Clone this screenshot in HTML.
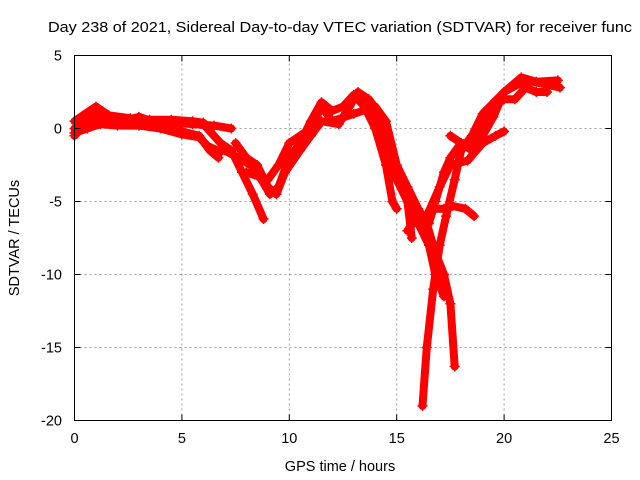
<!DOCTYPE html>
<html><head><meta charset="utf-8"><style>
body{margin:0;background:#fff}
svg{display:block;font-family:"Liberation Sans",sans-serif}
</style></head><body>
<svg id="chart" width="640" height="480" viewBox="0 0 640 480">
<text x="48" y="32" font-size="14.5" fill="#000" textLength="584" lengthAdjust="spacingAndGlyphs">Day 238 of 2021, Sidereal Day-to-day VTEC variation (SDTVAR) for receiver func</text>
<g id="grid"></g>
<g id="series"></g>
<rect x="74.5" y="55.5" width="537" height="365" fill="none" stroke="#000" stroke-width="1"/>
<g id="axes"></g>
<text x="340" y="471" font-size="14.5" text-anchor="middle">GPS time / hours</text>
<text transform="translate(19,238) rotate(-90)" font-size="14.5" text-anchor="middle">SDTVAR / TECUs</text>
</svg>
<script>
const xTicks=[0,5,10,15,20,25];
const yTicks=[5,0,-5,-10,-15,-20];
const track1=[[0,0],[0.5,0.6],[1,1.2],[1.5,0.6],[2.5,0.5],[3.5,0.3],[4.5,0.4],[5.5,0.3],[6.5,0.2],[7.3,0]];
const track2=[[0,-0.5],[0.5,0.3],[1,0.8],[2,0.4],[3,0.8],[4,0.3],[5,-0.2],[5.8,-0.5],[6.3,-1.5],[6.7,-2]];
const track2b=[[0,0.5],[0.4,0.9],[1,1.5],[1.6,0.9],[2.6,0.7],[3.5,0.6],[4.5,0.6],[5.5,0.5],[6,0.4]];
const track2c=[[0,-0.3],[0.6,0],[1.2,0.3],[2,0.2],[3,0.2],[4,0],[5,-0.4],[5.8,-0.6],[6.2,-1.2],[6.8,-1.6]];
const track3=[[6,0.3],[6.8,-1],[7.3,-1.5],[7.8,-3],[8.3,-4.5],[8.8,-6.2]];
const track4=[[7,-1.5],[7.6,-2],[8.2,-2.5],[8.7,-3.5],[9.1,-4.5],[9.5,-4],[10,-2],[10.5,-1],[11,0.5],[11.5,1.8],[12,1.2],[12.5,1.5],[13,2.3],[13.5,1.5],[14,0],[14.5,-2.5],[14.8,-5],[15,-5.5]];
const track5=[[7.5,-1],[8,-2],[8.5,-2.5],[9,-4],[9.4,-4.5],[9.8,-3],[10.5,-1.5],[11,-0.5],[11.5,0.5],[12.3,0.3],[12.8,1.5],[13.2,2.5],[13.7,2],[14.2,1],[14.7,-1],[15,-3],[15.5,-5],[15.7,-7.5]];
const track6=[[8,-3],[9,-3.5],[9.5,-2.5],[10,-1],[11,0],[11.5,1.5],[12,0.5],[13,1],[14,1.5],[14.5,0.5],[15,-2.5],[15.5,-4],[16,-5.5],[16.4,-6.5],[16.8,-8.5],[17.2,-10],[17.5,-12],[17.7,-16.3]];
const track7=[[16.2,-19],[16.4,-15],[16.7,-11],[17,-8],[17.3,-6],[17.7,-3.5],[18,-1.5],[18.5,-0.5],[19,1],[20,2.5],[21,3.3],[22,3],[22.6,2.8]];
const track8=[[15.5,-7],[16,-6],[16.5,-6.5],[16.8,-5],[17.2,-3],[17.5,-2],[18,-1],[18.5,-1.5],[19,-0.5],[19.5,0.8],[20,2.5],[20.8,3.5],[21.5,3.2],[22.5,3.3]];
const track9=[[16.7,-5.5],[17.2,-5.5],[17.6,-5.3],[18.2,-5.5],[18.6,-6]];
const track10=[[16.4,-6],[17,-4],[17.5,-2.5],[18.3,-2.2],[19,-1],[19.6,-0.5],[20,-0.2]];
const track11=[[17.5,-0.5],[18,-1],[18.5,-1],[19,0.5],[19.5,1.5],[20,2],[20.5,2],[21,2.8],[21.5,2.5],[22,2.5]];
const track12=[[13.5,1.5],[14,0.8],[14.5,-1.5],[15,-3.5],[15.5,-5],[16,-6.5],[16.5,-8],[16.8,-10],[17.2,-11.5]];
const tracks=[track1,track2,track2b,track2c,track3,track4,track5,track6,track7,track8,track9,track10,track11,track12];

const NS="http://www.w3.org/2000/svg";
const X0=74.5,X1=611.5,Y0=420.5,Y1=55.5;
const xs=v=>X0+(v-0)/(25-0)*(X1-X0);
const ys=v=>Y0-(v+20)/(5+20)*(Y0-Y1);
const grid=document.getElementById('grid'),axes=document.getElementById('axes'),ser=document.getElementById('series');
function mk(tag,attrs,parent){const e=document.createElementNS(NS,tag);for(const k in attrs)e.setAttribute(k,attrs[k]);parent.appendChild(e);return e;}
xTicks.forEach(t=>{
  const x=xs(t);
  if(t>0&&t<25){const g=mk('line',{x1:x,x2:x,y1:Y0,y2:Y1,stroke:'#a0a0a0','stroke-dasharray':'2,3'},grid);
  
  }
  const tk=mk('path',{d:`M${x},${Y0}v-6M${x},${Y1}v6`,stroke:'#000'},axes);
  
  
  const l=mk('text',{x:x,y:443,'font-size':'14.5','text-anchor':'middle'},axes);l.textContent=t;
  
  
});
yTicks.forEach(t=>{
  const y=ys(t);
  if(t>-20&&t<5){const g=mk('line',{x1:X0,x2:X1,y1:y,y2:y,stroke:'#a0a0a0','stroke-dasharray':'2,3'},grid);
  
  }
  const tk=mk('path',{d:`M${X0},${y}h6M${X1},${y}h-6`,stroke:'#000'},axes);
  
  
  const l=mk('text',{x:62,y:y+5,'font-size':'14.5','text-anchor':'end'},axes);l.textContent=t;
  
  
});
tracks.forEach((tr,i)=>{
  const pts=tr.map(p=>xs(p[0])+','+ys(p[1])).join(' ');
  const pl=mk('polyline',{points:pts,fill:'none',stroke:'#ff0000','stroke-width':'8','stroke-linejoin':'round','stroke-linecap':'round'},ser);
  
  
  tr.forEach(p=>{
    const m=mk('path',{d:`M${xs(p[0])-5},${ys(p[1])}h10M${xs(p[0])},${ys(p[1])-5}v10`,stroke:'#ff0000','stroke-width':'1.5'},ser);
    
    
  });
});
</script>
</body></html>
